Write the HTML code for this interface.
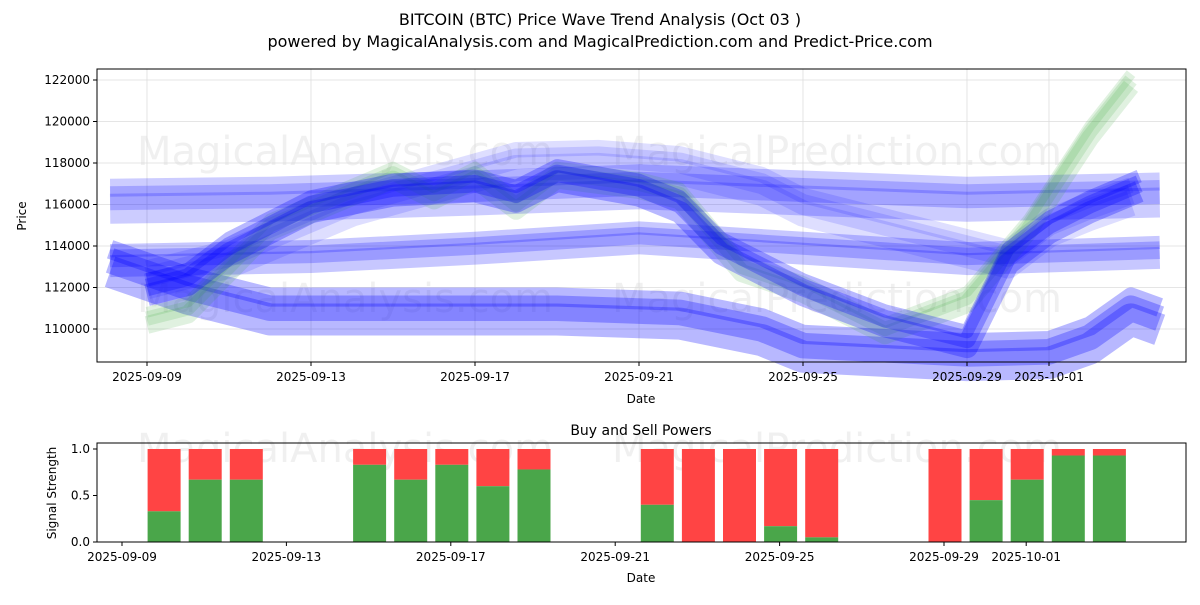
<!DOCTYPE html>
<html><head><meta charset="utf-8"><style>
body{margin:0;background:#fff;font-family:"Liberation Sans","DejaVu Sans",sans-serif}
svg text{font-family:"DejaVu Sans","Liberation Sans",sans-serif}
</style></head><body>
<svg id="c" width="1200" height="600" viewBox="0 0 1200 600">
<text x="600" y="25" text-anchor="middle" font-size="16">BITCOIN (BTC) Price Wave Trend Analysis (Oct 03 )</text>
<text x="600" y="47" text-anchor="middle" font-size="16">powered by MagicalAnalysis.com and MagicalPrediction.com and Predict-Price.com</text>
<g id="topPanel"></g>
<g id="botPanel"></g>
</svg>
<script>
// price bands: day offsets from 2025-09-09, prices
const bandDays1=[-0.9,3,8,12,16,20,24.7];
const bandUpper=[116300,116400,116700,117000,116700,116400,116600];
const bandDays2=[-0.9,4,8,12,16,20,24.7];
const bandMid=[113400,113600,114000,114500,114000,113500,113800];
const trendDays=[0,1,2,4,6,8,9,10,12,13,14,15,16,18,20,21,22,23,24.2];
const trendMain=[112000,112500,114000,116000,116800,117000,116500,117500,116800,116000,114000,113000,112000,110500,109500,113500,115000,116000,117000];
const lowDays=[-0.9,1,3,6,10,13,15,16,18,20,22,23,24,24.7];
const lowBand=[113300,112000,111000,111000,111000,110800,110000,109200,109000,108800,108900,109600,111000,110500];
const greenDays=[0,1,3,6,7,8,9,10,12,13,14.5,16,18,20,21.5,22,23,24];
const greenTrend=[110500,111000,115000,117500,116500,117500,116000,117500,117000,116500,113000,112000,110000,111500,115000,116500,119500,122000];
const hiDays=[0,2,5,9,11,13,14,15,16,18,19,20,21,22,23,24];
const hiBand=[112500,113500,116000,118200,118300,118000,117500,117000,116000,115000,114500,114000,113500,115000,115800,116500];
// buy/sell signals
const sigDays=[1,2,3,6,7,8,9,10,13,14,15,16,17,20,21,22,23,24];
const buyPower=[0.33,0.67,0.67,0.83,0.67,0.83,0.6,0.78,0.4,0,0,0.17,0.05,0,0.45,0.67,0.93,0.93];
const xTicks=["2025-09-09","2025-09-13","2025-09-17","2025-09-21","2025-09-25","2025-09-29","2025-10-01"];
const xTickDays=[0,4,8,12,16,20,22];
const yTicks=[110000,112000,114000,116000,118000,120000,122000];
const sTicks=[0,0.5,1];

const NS="http://www.w3.org/2000/svg";
function mk(p,t,a,txt){const e=document.createElementNS(NS,t);for(const k in a)e.setAttribute(k,a[k]);if(txt!=null)e.textContent=txt;p.appendChild(e);return e;}
const topG=document.getElementById('topPanel'),botG=document.getElementById('botPanel');
const L=97,R=1186,T1=69,B1=362,T2=443,B2=542;
const xt=d=>147+d*41, yp=v=>329-(v-110000)*0.02075;
const xb=d=>122+d*41.1, ys=v=>542-v*93;

// watermarks
[[345,165,'MagicalAnalysis.com'],[837,165,'MagicalPrediction.com'],[345,312,'MagicalAnalysis.com'],[837,312,'MagicalPrediction.com']].forEach(w=>{
 const t=mk(topG,'text',{x:w[0],y:w[1],'text-anchor':'middle','font-size':40,fill:'#000','fill-opacity':0.06},w[2]);
 
 
});
// grid
yTicks.forEach(v=>{const g=mk(topG,'line',{x1:L,x2:R,y1:yp(v),y2:yp(v),stroke:'#ddd','stroke-width':0.8});
 
 });
xTickDays.forEach(d=>{const g=mk(topG,'line',{x1:xt(d),x2:xt(d),y1:T1,y2:B1,stroke:'#ddd','stroke-width':0.8});
 
 });

function band(days,vals,color,w,op,name){
 for(let k=0;k<3;k++){
  const off=(k-1)*w*0.35;
  const pts=days.map((d,i)=>xt(d)+','+(yp(vals[i])+off)).join(' ');
  const p=mk(topG,'polyline',{points:pts,fill:'none',stroke:color,'stroke-width':w*(0.6+k*0.2),'stroke-opacity':op,'stroke-linejoin':'round'});
  
  
 }
}
band(bandDays1,bandUpper,'#0000ff',30,0.2,'upper-band');
band(bandDays2,bandMid,'#0000ff',22,0.22,'middle-band');
band(hiDays,hiBand,'#0000ff',26,0.13,'high-band');
band(lowDays,lowBand,'#0000ff',32,0.28,'lower-band');
band(greenDays,greenTrend,'#2ca02c',18,0.15,'green-trend');
band(trendDays,trendMain,'#0000ff',22,0.28,'main-trend');

mk(topG,'rect',{x:L,y:T1,width:R-L,height:B1-T1,fill:'none',stroke:'#000','stroke-width':1});
yTicks.forEach(v=>{mk(topG,'line',{x1:L-4,x2:L,y1:yp(v),y2:yp(v),stroke:'#000'});
 const t=mk(topG,'text',{x:L-7,y:yp(v)+4,'text-anchor':'end','font-size':12},v);
 
 });
xTickDays.forEach((d,i)=>{mk(topG,'line',{x1:xt(d),x2:xt(d),y1:B1,y2:B1+4,stroke:'#000'});
 const t=mk(topG,'text',{x:xt(d),y:B1+19,'text-anchor':'middle','font-size':12},xTicks[i]);
 
 });
mk(topG,'text',{x:641,y:403,'text-anchor':'middle','font-size':12,},'Date');
mk(topG,'text',{x:26,y:216,'text-anchor':'middle','font-size':12,transform:'rotate(-90 26 216)',},'Price');

// bottom panel
mk(botG,'text',{x:641,y:435,'text-anchor':'middle','font-size':14,},'Buy and Sell Powers');
[[345,462,'MagicalAnalysis.com'],[837,462,'MagicalPrediction.com']].forEach(w=>{
 const t=mk(botG,'text',{x:w[0],y:w[1],'text-anchor':'middle','font-size':40,fill:'#000','fill-opacity':0.06},w[2]);
 
 });
sigDays.forEach((d,i)=>{
 const cx=xb(d)+1,bw=33;
 const s=mk(botG,'rect',{x:cx-bw/2,y:ys(1),width:bw,height:ys(buyPower[i])-ys(1),fill:'#ff4444'});
 
 
 const b=mk(botG,'rect',{x:cx-bw/2,y:ys(buyPower[i]),width:bw,height:ys(0)-ys(buyPower[i]),fill:'#4aa64a'});
 
 
});
mk(botG,'rect',{x:L,y:T2,width:R-L,height:B2-T2,fill:'none',stroke:'#000'});
sTicks.forEach(v=>{mk(botG,'line',{x1:L-4,x2:L,y1:ys(v),y2:ys(v),stroke:'#000'});
 const t=mk(botG,'text',{x:L-7,y:ys(v)+4,'text-anchor':'end','font-size':12},v.toFixed(1));
 
 });
xTickDays.forEach((d,i)=>{mk(botG,'line',{x1:xb(d),x2:xb(d),y1:B2,y2:B2+4,stroke:'#000'});
 const t=mk(botG,'text',{x:xb(d),y:B2+19,'text-anchor':'middle','font-size':12},xTicks[i]);
 
 });
mk(botG,'text',{x:641,y:582,'text-anchor':'middle','font-size':12,},'Date');
mk(botG,'text',{x:56,y:493,'text-anchor':'middle','font-size':12,transform:'rotate(-90 56 493)',},'Signal Strength');
</script>
</body></html>
